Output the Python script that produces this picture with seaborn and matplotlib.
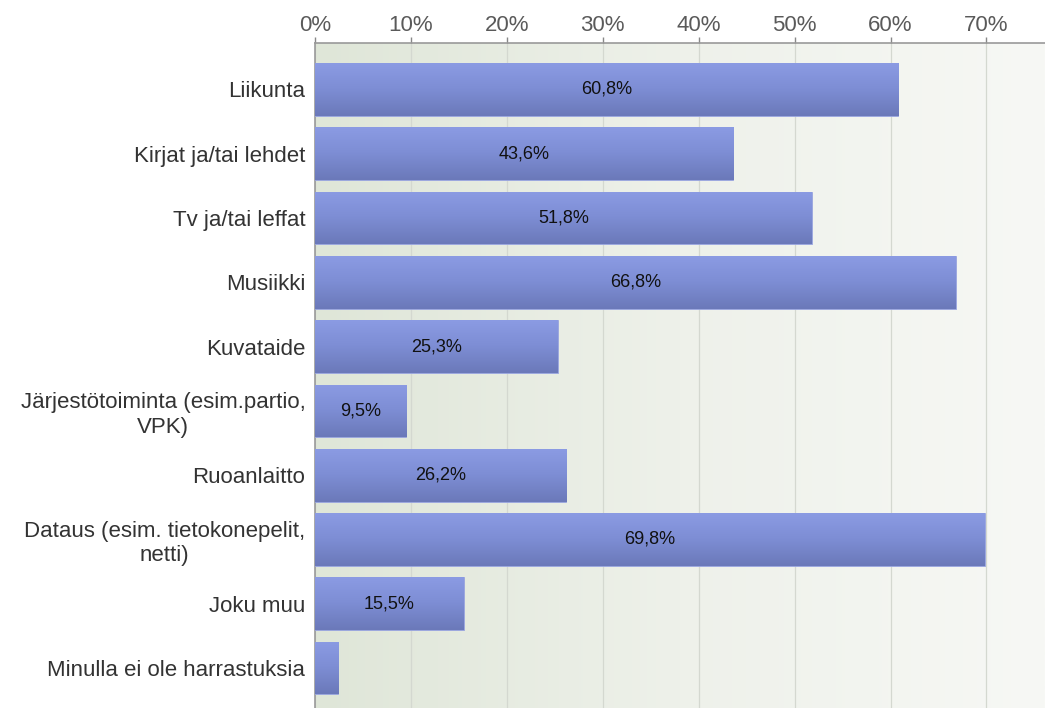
import numpy as np
import pandas as pd
import matplotlib
matplotlib.use('Agg')
import matplotlib.pyplot as plt
import seaborn as sns
from matplotlib.colors import LinearSegmentedColormap

categories = ['Liikunta', 'Kirjat ja/tai lehdet', 'Tv ja/tai leffat', 'Musiikki',
              'Kuvataide', 'Järjestötoiminta (esim.partio,\nVPK)', 'Ruoanlaitto',
              'Dataus (esim. tietokonepelit,\nnetti)', 'Joku muu',
              'Minulla ei ole harrastuksia']
values = [60.8, 43.6, 51.8, 66.8, 25.3, 9.5, 26.2, 69.8, 15.5, 2.4]
value_labels = ['60,8%', '43,6%', '51,8%', '66,8%', '25,3%', '9,5%', '26,2%',
                '69,8%', '15,5%', '']
tick_values = [0, 10, 20, 30, 40, 50, 60, 70]

df = pd.DataFrame({'cat': categories, 'val': values})

sns.set_style('white')
plt.rcParams['font.family'] = ['Liberation Sans', 'DejaVu Sans']

fig = plt.figure(figsize=(10.45, 7.08), dpi=100)
ax = fig.add_axes([315 / 1045, 0.0, 1 - 315 / 1045, 1 - 43 / 708])

sns.barplot(data=df, x='val', y='cat', color='#7a88cc', width=0.82, ax=ax,
            saturation=1, edgecolor='#9aa6e0', linewidth=0.6, zorder=3)

ax.set_xlim(0, 76.1)
ax.set_ylim(9.62, -0.72)

# background gradient
bg = LinearSegmentedColormap.from_list('bg', ['#dfe6d8', '#eef1ea', '#f7f8f5'])
ax.imshow(np.linspace(0, 1, 256).reshape(1, -1), cmap=bg, aspect='auto',
          extent=[0, 76.1, 9.62, -0.72], zorder=0)

# bar gradients
barcm = LinearSegmentedColormap.from_list('bar', ['#8b9be3', '#7d8dd4', '#6b79b9'])
grad = np.linspace(0, 1, 64).reshape(-1, 1)
for p in ax.patches:
    x0, y0 = p.get_x(), p.get_y()
    w, h = p.get_width(), p.get_height()
    im = ax.imshow(grad, cmap=barcm, aspect='auto',
                   extent=[x0, x0 + w, y0 + h, y0], zorder=4)
    im.set_clip_path(p)

for i, (v, lab) in enumerate(zip(values, value_labels)):
    if lab:
        ax.text(v / 2, i, lab, ha='center', va='center', fontsize=13,
                color='#111111', zorder=6)

ax.xaxis.tick_top()
ax.set_xticks(tick_values)
ax.set_xticklabels([f'{t}%' for t in tick_values])
ax.tick_params(axis='x', colors='#888888', labelcolor='#5a5a5a', labelsize=16,
               length=4, width=1, direction='out', pad=1)
ax.tick_params(axis='y', length=0, labelsize=16, labelcolor='#333333', pad=7)
for lab in ax.get_yticklabels():
    lab.set_multialignment('center')

ax.grid(axis='x', color='#d4d8d0', linewidth=0.9, zorder=1)
ax.set_axisbelow(True)
for s in ['right', 'bottom']:
    ax.spines[s].set_visible(False)
ax.spines['top'].set_color('#999999')
ax.spines['left'].set_color('#999999')
ax.spines['top'].set_linewidth(1.2)
ax.spines['left'].set_linewidth(1.2)
ax.set_xlabel('')
ax.set_ylabel('')

fig.savefig('out.png', dpi=100)
